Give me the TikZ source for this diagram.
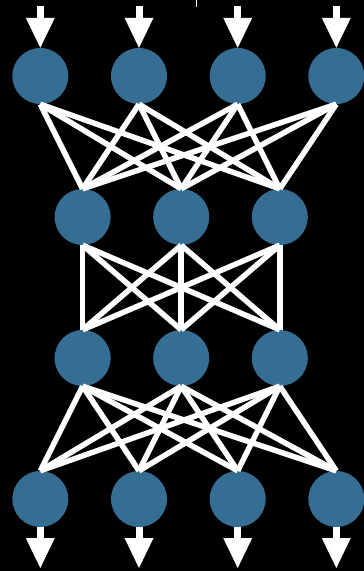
\documentclass[tikz,border=0pt]{standalone}
\usetikzlibrary{arrows.meta}
\definecolor{nodeblue}{RGB}{53,110,146}
\begin{document}
\begin{tikzpicture}[x=1pt,y=-1pt,
  neuron/.style={circle,fill=nodeblue,draw=none,minimum size=56pt,inner sep=0pt},
  link/.style={white,line width=5.5pt},
  bigarrow/.style={white,line width=7pt,-{Triangle[width=29pt,length=30pt,line width=0pt]}}]
\fill[black] (0,0) rectangle (364,571);
\useasboundingbox (0,0) rectangle (364,571);
% rows
\foreach \i/\x in {1/40.3,2/139,3/237.7,4/336.3}{
  \node[neuron] (a\i) at (\x,76) {};
  \node[neuron] (d\i) at (\x,499) {};
}
\foreach \i/\x in {1/82.6,2/181.2,3/279.8}{
  \node[neuron] (b\i) at (\x,217) {};
  \node[neuron] (c\i) at (\x,358) {};
}
% connections
\foreach \i in {1,2,3,4}{
  \foreach \j in {1,2,3}{
    \draw[link] (a\i.south) -- (b\j.north);
    \draw[link] (c\j.south) -- (d\i.north);
  }
}
\foreach \i in {1,2,3}{
  \foreach \j in {1,2,3}{
    \draw[link] (b\i.south) -- (c\j.north);
  }
}
% input / output arrows
\foreach \i/\x in {1/40.3,2/139,3/237.7,4/336.3}{
  \coordinate (in\i) at (\x,6);
  \coordinate (out\i) at (\x,568);
  \draw[bigarrow] (in\i) -- (a\i.north);
  \draw[bigarrow] (d\i.south) -- (out\i);
}
% small tick at top
\coordinate (tickA) at (196.7,0);
\coordinate (tickB) at (196.7,7);
\draw[white,line width=1pt] (tickA) -- (tickB);
\end{tikzpicture}
\end{document}
